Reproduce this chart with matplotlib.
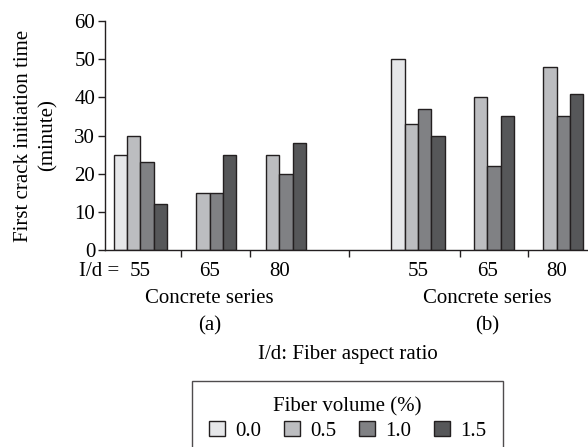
import numpy as np
import matplotlib.pyplot as plt

plt.rcParams['font.family'] = ['Liberation Serif', 'DejaVu Serif']
plt.rcParams['font.size'] = 15

# Data: first crack initiation time (minute)
aspect_labels = ['55', '65', '80']
fiber_volumes = ['0.0', '0.5', '1.0', '1.5']
series_a = {  # rows: l/d 55, 65, 80 ; NaN = not tested
    '0.0': [25, np.nan, np.nan],
    '0.5': [30, 15, 25],
    '1.0': [23, 15, 20],
    '1.5': [12, 25, 28],
}
series_b = {
    '0.0': [50, np.nan, np.nan],
    '0.5': [33, 40, 48],
    '1.0': [37, 22, 35],
    '1.5': [30, 35, 41],
}
colors = ['#e6e7e9', '#bcbdc0', '#808184', '#565759']

fig = plt.figure(figsize=(5.88, 4.47), dpi=100)
ax = fig.add_axes([0.1786, 0.4407, 0.8214, 0.5123])

pos_a = np.array([0, 1, 2])
pos_b = np.array([4, 5, 6])
w = 0.192
for i, fv in enumerate(fiber_volumes):
    off = (i - 1.5) * w
    ax.bar(pos_a + off, series_a[fv], w, color=colors[i], edgecolor='#231f20',
           linewidth=1.0, label=fv)
    ax.bar(pos_b + off, series_b[fv], w, color=colors[i], edgecolor='#231f20',
           linewidth=1.0)

ax.set_xlim(-0.51, 6.45)
ax.set_ylim(0, 60)
ax.set_yticks(range(0, 61, 10))
ax.set_xticks([0.59, 1.58, 3.0, 4.6, 5.59])
ax.set_xticklabels([])
ax.tick_params(axis='both', direction='out', length=5, width=1, color='#231f20')
ax.tick_params(axis='y', pad=2)
for s in ['top', 'right']:
    ax.spines[s].set_visible(False)
for s in ['left', 'bottom']:
    ax.spines[s].set_color('#231f20')
    ax.spines[s].set_linewidth(1.0)

ax.set_ylabel('First crack initiation time\n(minute)', labelpad=12,
              linespacing=1.4)

# category labels below axis
tr = ax.get_xaxis_transform()
for p, lab in zip(np.concatenate([pos_a, pos_b]), aspect_labels * 2):
    ax.text(p, -0.092, lab, transform=tr, ha='center', va='center')
ax.text(-0.3, -0.092, 'I/d =', transform=tr, ha='right', va='center')
ax.text(1, -0.21, 'Concrete series', transform=tr, ha='center', va='center')
ax.text(1, -0.33, '(a)', transform=tr, ha='center', va='center')
ax.text(5, -0.21, 'Concrete series', transform=tr, ha='center', va='center')
ax.text(5, -0.33, '(b)', transform=tr, ha='center', va='center')
fig.text(0.591, 1 - 355 / 447, 'I/d: Fiber aspect ratio', ha='center', va='center')

leg = fig.legend(*ax.get_legend_handles_labels(), loc='upper center',
                 bbox_to_anchor=(0.591, 1 - 381 / 447), ncol=4,
                 title='Fiber volume (%)', fancybox=False, frameon=True,
                 edgecolor='#231f20', handlelength=0.75, handleheight=0.75,
                 handletextpad=0.5, columnspacing=1.1, borderpad=0.8,
                 borderaxespad=0, labelspacing=0.2)
leg.get_frame().set_linewidth(1.0)

fig.savefig('out.png', dpi=100)
